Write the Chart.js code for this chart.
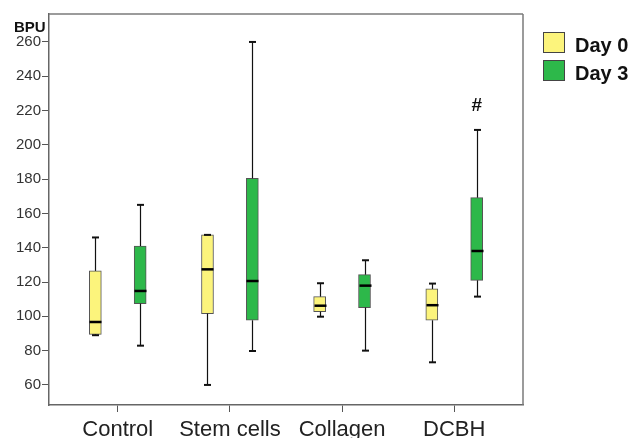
<!DOCTYPE html>
<html>
<head>
<meta charset="utf-8">
<script src="https://cdn.jsdelivr.net/npm/chart.js@4/dist/chart.umd.min.js"></script>
<style>
  body { margin: 0; background: #fff; }
</style>
</head>
<body>
<canvas id="boxChart" width="634" height="438"></canvas>
<script>
// BPU box plots, Day 0 vs Day 3
const categories = ['Control', 'Stem cells', 'Collagen', 'DCBH'];
const seriesNames = ['Day 0', 'Day 3'];

const day0Min    = [89,    60,    99.8,  73.2];
const day0Q1     = [89.5,  101.6, 102.7, 97.7];
const day0Median = [96.7,  127.4, 106.2, 106.5];
const day0Q3     = [126.5, 147.5, 111.5, 116];
const day0Max    = [146,   147.5, 119.3, 119.1];

const day3Min    = [82.9,  79.8,  80,    111.5];
const day3Q1     = [107.4, 97.7,  105.1, 121];
const day3Median = [114.8, 120.6, 117.9, 138.1];
const day3Q3     = [141,   180.5, 124.3, 169.2];
const day3Max    = [165,   260,   132.7, 208.7];

const yTicks = [60, 80, 100, 120, 140, 160, 180, 200, 220, 240, 260];
const yLabel = 'BPU';
const markText = '#';
const markCategory = 3;
const markValue = 224;

const FONT = '"Liberation Sans", Arial, sans-serif';
const colors = ['#fcf47c', '#2db84a'];
const offsets = [-0.2, 0.2];

const stats = [
    { min: day0Min, q1: day0Q1, med: day0Median, q3: day0Q3, max: day0Max },
    { min: day3Min, q1: day3Q1, med: day3Median, q3: day3Q3, max: day3Max }
];

// whiskers, caps, medians, frame, legend and labels
const boxPlugin = {
    id: 'boxExtras',
    afterDatasetsDraw(chart) {
        const { ctx, scales: { x, y }, chartArea: a } = chart;
        const line = (x1, y1, x2, y2) => {
            ctx.beginPath(); ctx.moveTo(x1, y1); ctx.lineTo(x2, y2); ctx.stroke();
        };
        ctx.save();
        stats.forEach((s, k) => {
            categories.forEach((c, i) => {
                const cx = Math.round(x.getPixelForValue(i + offsets[k])) + 0.5;
                const yMin = y.getPixelForValue(s.min[i]);
                const yQ1 = y.getPixelForValue(s.q1[i]);
                const yMed = y.getPixelForValue(s.med[i]);
                const yQ3 = y.getPixelForValue(s.q3[i]);
                const yMax = y.getPixelForValue(s.max[i]);
                ctx.strokeStyle = '#111';
                ctx.lineWidth = 1.2;
                line(cx, yQ3, cx, yMax);
                line(cx, yQ1, cx, yMin);
                ctx.lineWidth = 2;
                line(cx - 3.5, yMax, cx + 3.5, yMax);
                line(cx - 3.5, yMin, cx + 3.5, yMin);
                ctx.lineWidth = 2.5;
                ctx.strokeStyle = '#000';
                line(cx - 6, yMed, cx + 6, yMed);
            });
        });

        // frame (top and right)
        ctx.strokeStyle = '#7a7a7a';
        ctx.lineWidth = 1.5;
        line(a.left, a.top, a.right, a.top);
        line(a.right, a.top, a.right, a.bottom);

        // axis label
        ctx.fillStyle = '#111';
        ctx.font = 'bold 15px ' + FONT;
        ctx.textAlign = 'left';
        ctx.textBaseline = 'alphabetic';
        ctx.fillText(yLabel, 14, 32);

        // significance mark
        ctx.font = 'bold 19px ' + FONT;
        ctx.textAlign = 'center';
        ctx.fillText(markText, x.getPixelForValue(markCategory + offsets[1]), y.getPixelForValue(markValue) + 7);

        // legend
        seriesNames.forEach((name, k) => {
            const top = 32 + k * 28;
            ctx.fillStyle = colors[k];
            ctx.fillRect(543, top, 22, 21);
            ctx.strokeStyle = '#444';
            ctx.lineWidth = 1;
            ctx.strokeRect(543.5, top + 0.5, 21, 20);
            ctx.fillStyle = '#111';
            ctx.font = 'bold 20px ' + FONT;
            ctx.textAlign = 'left';
            ctx.fillText(name, 575, top + 20);
        });
        ctx.restore();
    }
};

new Chart(document.getElementById('boxChart'), {
    type: 'bar',
    data: {
        datasets: stats.map((s, k) => ({
            label: seriesNames[k],
            data: categories.map((c, i) => ({ x: i + offsets[k], y: [s.q1[i], s.q3[i]] })),
            backgroundColor: colors[k],
            borderColor: '#555',
            borderWidth: 1,
            borderSkipped: false,
            barThickness: 12,
            grouped: false
        }))
    },
    options: {
        responsive: false,
        animation: false,
        devicePixelRatio: 1,
        layout: { padding: { top: 14, right: 111, left: 0, bottom: 0 } },
        plugins: { legend: { display: false }, tooltip: { enabled: false } },
        scales: {
            x: {
                type: 'linear',
                offset: false,
                min: -0.613,
                max: 3.613,
                afterBuildTicks: s => { s.ticks = categories.map((c, i) => ({ value: i })); },
                afterFit: s => { s.height = 33; },
                ticks: {
                    callback: v => categories[v],
                    autoSkip: false,
                    maxRotation: 0,
                    padding: 5,
                    color: '#222',
                    font: { family: FONT, size: 22 }
                },
                grid: { offset: false, drawOnChartArea: false, tickLength: 7, color: '#555' },
                border: { color: '#666', width: 1.5 }
            },
            y: {
                min: 48.3,
                max: 276.3,
                afterBuildTicks: s => { s.ticks = yTicks.map(v => ({ value: v })); },
                afterFit: s => { s.width = 49; },
                ticks: {
                    padding: 1,
                    color: '#333',
                    font: { family: FONT, size: 15 }
                },
                grid: { drawOnChartArea: false, tickLength: 7, color: '#555' },
                border: { color: '#666', width: 1.5 }
            }
        }
    },
    plugins: [boxPlugin]
});
</script>
</body>
</html>
